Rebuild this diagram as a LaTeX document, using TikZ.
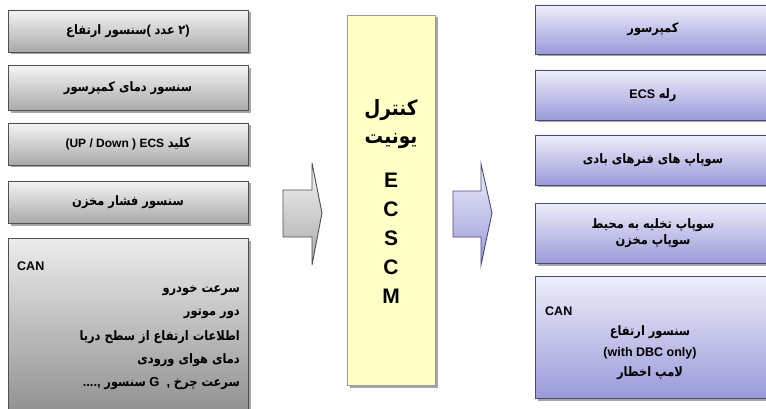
\documentclass[tikz,border=0pt]{standalone}
\usepackage{fontspec}
\setmainfont{Liberation Sans}
\newfontfamily\fa[Script=Arabic, FakeStretch=0.88]{DejaVu Sans}
\TeXXeTstate=1
\usetikzlibrary{shadows}
\definecolor{gtop}{HTML}{F4F4F4}
\definecolor{gbot}{HTML}{A9A9A9}
\definecolor{gline}{HTML}{505050}
\definecolor{btop}{HTML}{EEEEFA}
\definecolor{bbot}{HTML}{9A9ADA}
\definecolor{bline}{HTML}{4A4A7A}
\definecolor{yfill}{HTML}{FFFFC6}
\definecolor{yline}{HTML}{9A9A9A}
\newcommand\ar[1]{{\fa\beginR #1\endR}}
\tikzset{
  shad/.style={drop shadow={shadow xshift=2.5pt, shadow yshift=-2.5pt, opacity=0.35, fill=black}},
  gbox/.style={draw=gline, line width=0.9pt, top color=gtop, bottom color=gbot, shad,
    inner sep=0pt, font=\fontsize{13}{15}\selectfont\bfseries},
  bbox/.style={draw=bline, line width=0.9pt, top color=btop, bottom color=bbot, shad,
    inner sep=0pt, font=\fontsize{13}{15}\selectfont\bfseries, align=center},
  ybox/.style={draw=yline, line width=0.6pt, fill=yfill, shad},
  txt/.style={inner sep=0pt, font=\fontsize{13}{15}\selectfont\bfseries},
  lat/.style={font=\fontsize{12.5}{14}\selectfont\bfseries},
  big/.style={inner sep=0pt, font=\fontsize{21}{23}\selectfont\bfseries},
}
\begin{document}
\begin{tikzpicture}[x=1pt,y=-1pt]
\useasboundingbox (0,0) rectangle (766,409);
\clip (0,0) rectangle (766,409);
\fill[white] (0,0) rectangle (766,409);
% left column
\node[gbox, minimum width=240, minimum height=42] (l1) at (128,31)
  {\ar{سنسور ارتفاع}( \ar{عدد} \ar{۲})};
\node[gbox, minimum width=240, minimum height=45] (l2) at (128,88)
  {\ar{سنسور دمای کمپرسور}};
\node[gbox, minimum width=240, minimum height=42] (l3) at (128,144)
  {{\fontsize{12}{14}\selectfont(UP / Down ) ECS} \ar{کلید}};
\node[gbox, minimum width=240, minimum height=42] (l4) at (128,202)
  {\ar{سنسور فشار مخزن}};
\node[gbox, minimum width=240, minimum height=176, top color=gtop!90!gbot, bottom color=gbot!85!black] (l5) at (128,326) {};
\node[txt, lat, anchor=west] (can1) at (17,266) {CAN};
\node[txt, anchor=east] (a1) at (240,291) {\ar{سرعت خودرو}};
\node[txt, anchor=east] (a2) at (240,314) {\ar{دور موتور}};
\node[txt, anchor=east] (a3) at (240,337) {\ar{اطلاعات ارتفاع از سطح دریا}};
\node[txt, anchor=east] (a4) at (240,360) {\ar{دمای هوای ورودی}};
\node[txt, anchor=east] (a5) at (240,384) {...., \ar{سنسور} G\ \ ,\ \ar{سرعت چرخ}};
% left arrow
\path[draw=gline, line width=0.9pt, top color=gtop, bottom color=gbot]
  (283,190) -- (312,190) -- (312,163) -- (322,213) -- (312,265) -- (312,237) -- (283,237) -- cycle;
% center
\node[ybox, minimum width=88, minimum height=370] (c) at (391,200) {};
\node[big] (c1) at (391,110) {\ar{کنترل}};
\node[big] (c2) at (391,141) {\ar{یونیت}};
\node[big] (e1) at (391,180) {E};
\node[big] (e2) at (391,209) {C};
\node[big] (e3) at (391,238) {S};
\node[big] (e4) at (391,267) {C};
\node[big] (e5) at (391,296) {M};
% right arrow
\path[draw=bline, line width=0.9pt, top color=btop, bottom color=bbot]
  (453,191) -- (481,191) -- (481,164) -- (492,213) -- (481,265) -- (481,237) -- (453,237) -- cycle;
% right column
\node[bbox, minimum width=236, minimum height=49] (r1) at (653,29.5) {\ar{کمپرسور}};
\node[bbox, minimum width=236, minimum height=50] (r2) at (653,95) {{\fontsize{12.5}{14}\selectfont ECS} \ar{رله}};
\node[bbox, minimum width=236, minimum height=50] (r3) at (653,160) {\ar{سوپاپ های فنرهای بادی}};
\node[bbox, minimum width=236, minimum height=60] (r4) at (653,233)
  {\ar{سوپاپ تخلیه به محیط}\\[1pt]\ar{سوپاپ مخزن}};
\node[bbox, minimum width=236, minimum height=122] (r5) at (653,337) {};
\node[txt, lat, anchor=west] (can2) at (545,311) {CAN};
\node[txt] (b1) at (650,332) {\ar{سنسور ارتفاع}};
\node[txt, lat] (b2) at (650,353) {(with DBC only)};
\node[txt] (b3) at (650,373) {\ar{لامپ اخطار}};
\end{tikzpicture}
\end{document}
